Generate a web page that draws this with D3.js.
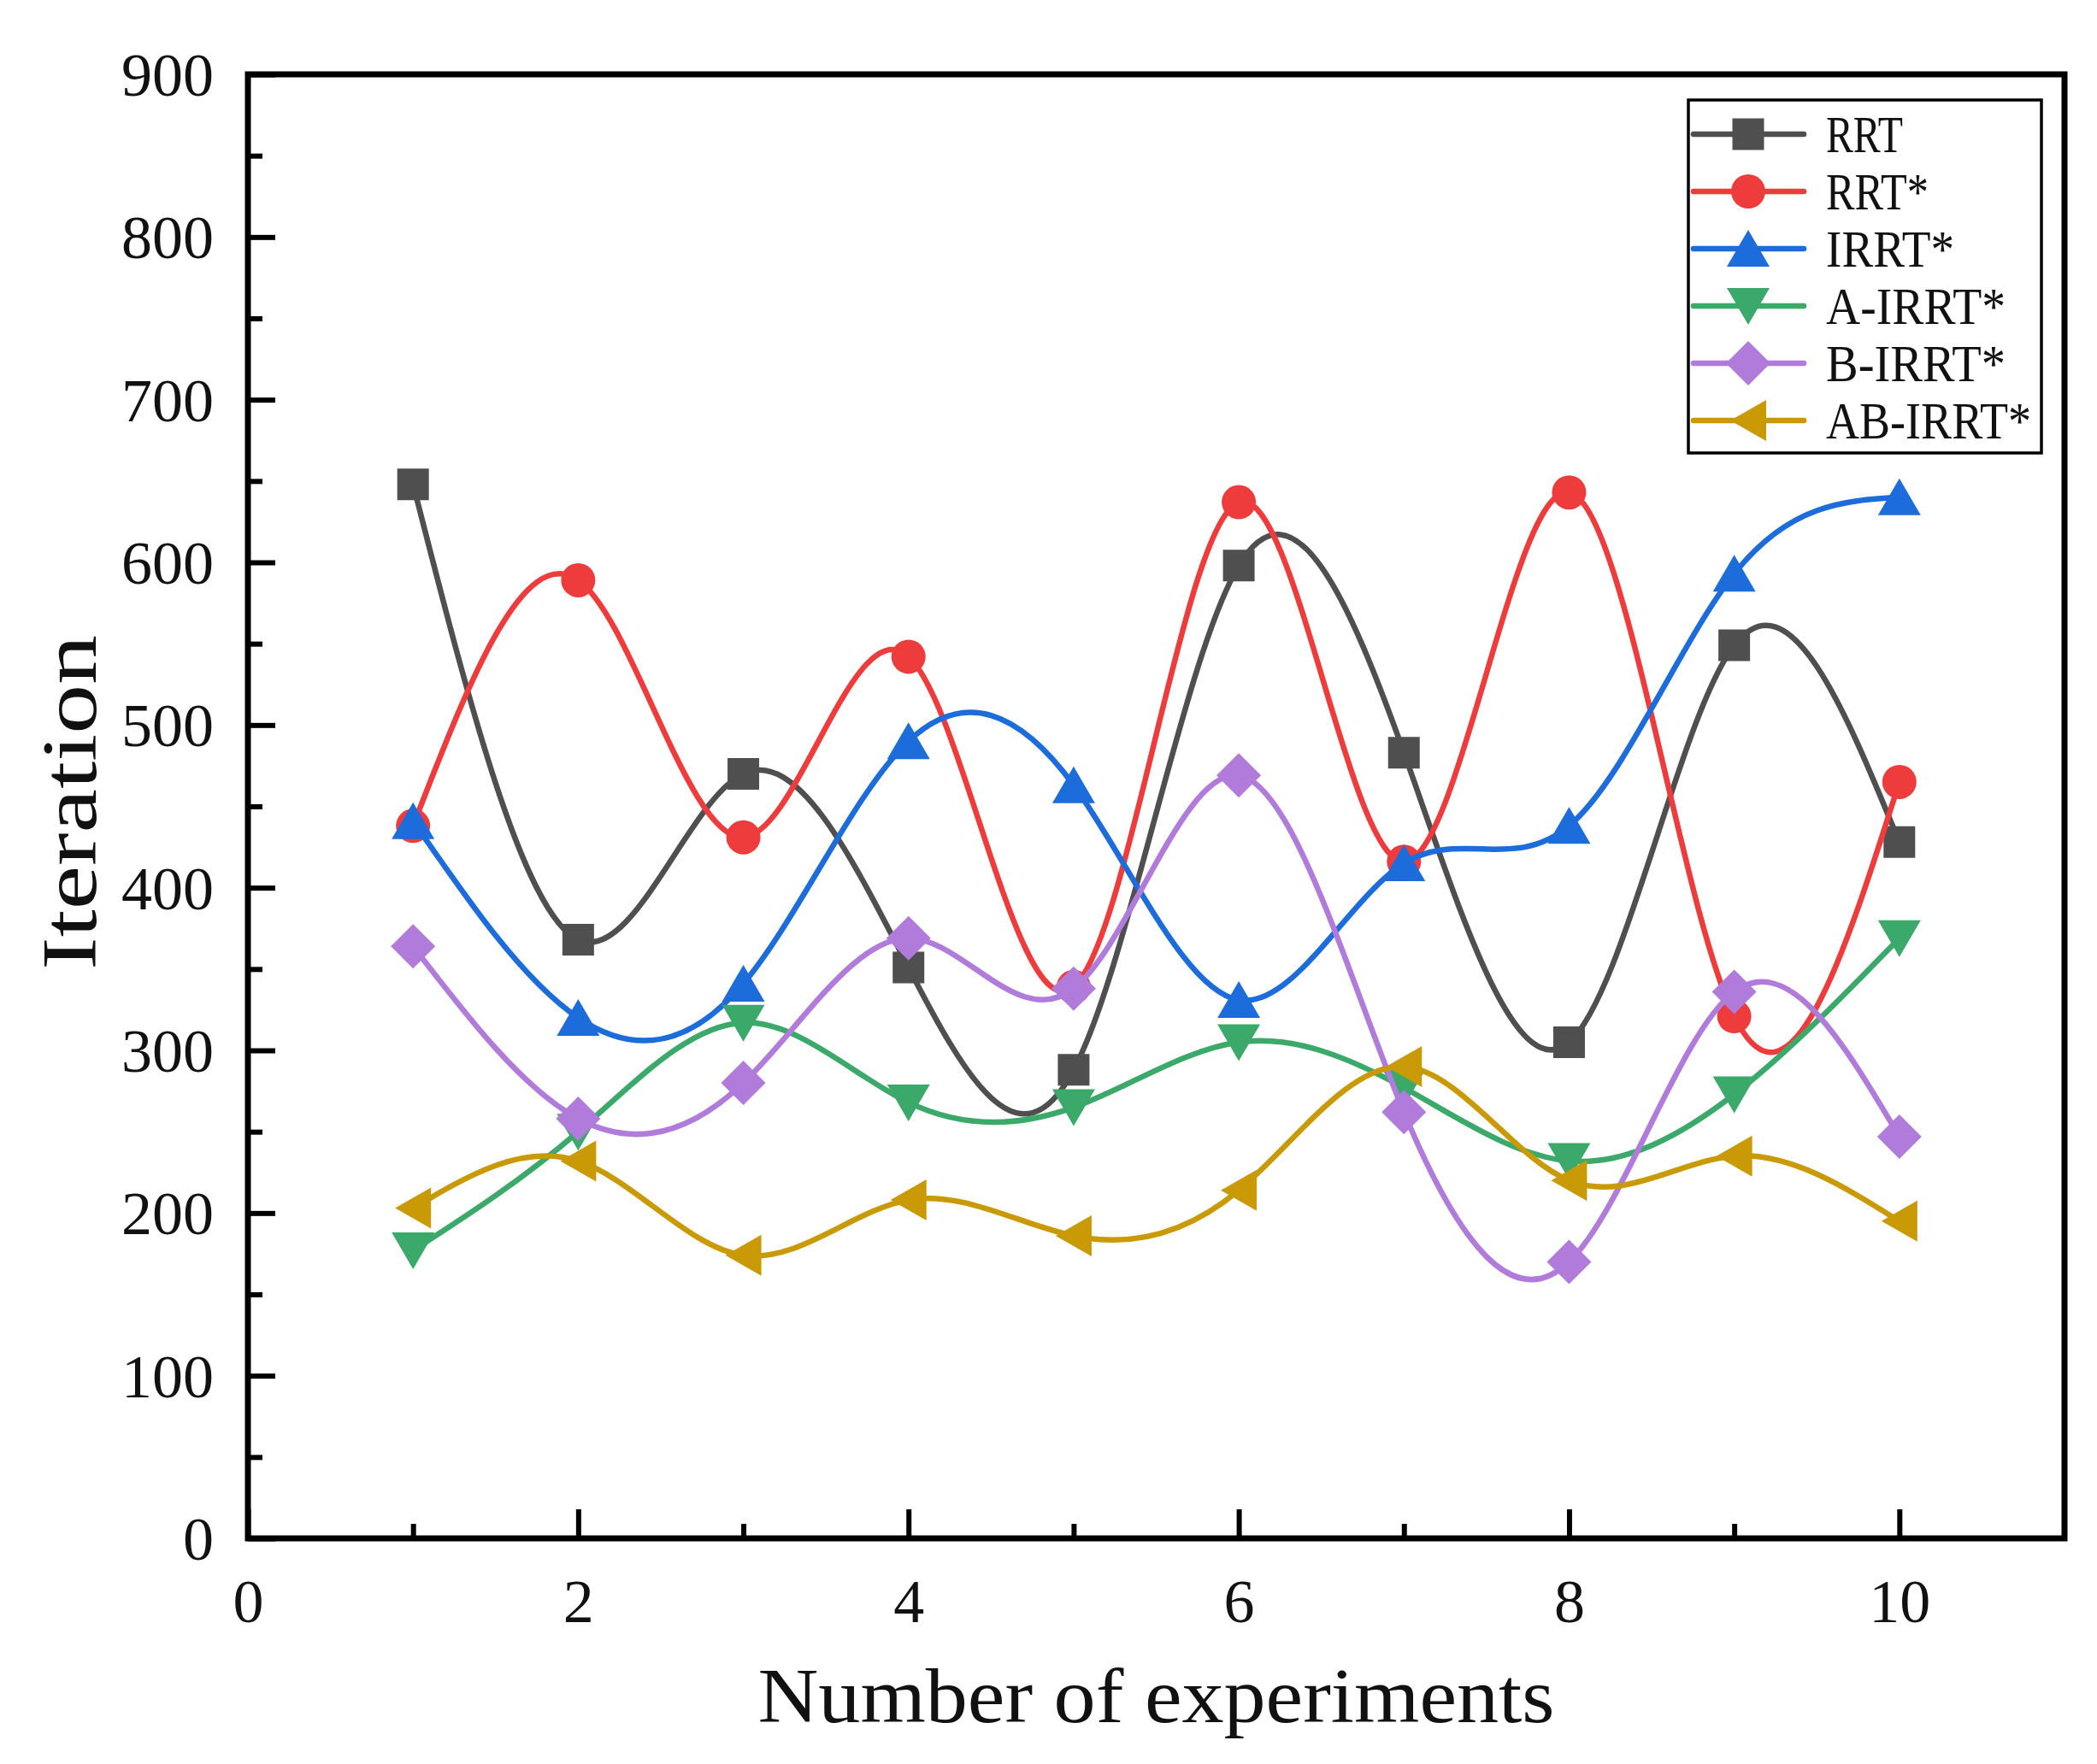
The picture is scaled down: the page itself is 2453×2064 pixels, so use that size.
<!DOCTYPE html>
<html>
<head>
<meta charset="utf-8">
<script src="https://cdn.jsdelivr.net/npm/d3@7"></script>
<style>
  body { margin: 0; background: #fff; }
  text { font-family: "Liberation Serif", "DejaVu Serif", serif; fill: #111; }
</style>
</head>
<body>
<script>
// chart values
var experiments = [1, 2, 3, 4, 5, 6, 7, 8, 9, 10];
var seriesNames = ["RRT", "RRT*", "IRRT*", "A-IRRT*", "B-IRRT*", "AB-IRRT*"];
var rrt     = [648, 368, 470, 351, 288, 598, 483, 305, 549, 428];
var rrtStar = [438, 589, 431, 542, 339, 637, 416, 643, 321, 465];
var irrt    = [441, 320, 341, 490, 463, 331, 415, 438, 593, 640];
var aIrrt   = [177, 250, 317, 268, 265, 305, 277, 232, 273, 369];
var bIrrt   = [364, 258, 280, 369, 338, 469, 262, 170, 336, 247];
var abIrrt  = [203, 232, 174, 208, 186, 214, 290, 220, 235, 195];
var xTicks = [0, 2, 4, 6, 8, 10];
var yTicks = [0, 100, 200, 300, 400, 500, 600, 700, 800, 900];

var colors = ["#4f4f4f", "#ee3c3c", "#1c6cdc", "#3aa96a", "#b07bdb", "#c99a05"];
var shapes = ["square", "circle", "up", "down", "diamond", "left"];
var allValues = [rrt, rrtStar, irrt, aIrrt, bIrrt, abIrrt];

var W = 2453, H = 2064;
var margin = {left: 290, right: 38, top: 87, bottom: 264};
var width = W - margin.left - margin.right;
var height = H - margin.top - margin.bottom;

var svg = d3.select("body").append("svg").attr("width", W).attr("height", H);
svg.append("rect").attr("width", W).attr("height", H).attr("fill", "#fff");

var g = svg.append("g").attr("transform", "translate(" + margin.left + "," + margin.top + ")");

var x = d3.scaleLinear().domain([0, 11]).range([0, width]);
var y = d3.scaleLinear().domain([0, 900]).range([height, 0]);

// minor ticks
g.append("g").attr("transform", "translate(0," + height + ")")
  .call(d3.axisBottom(x).tickValues([1, 3, 5, 7, 9]).tickSizeInner(-17).tickSizeOuter(0).tickFormat(""))
  .call(function(a){ a.select(".domain").remove(); a.selectAll("line").attr("stroke", "#000").attr("stroke-width", 6); });
g.append("g")
  .call(d3.axisLeft(y).tickValues(d3.range(50, 900, 100)).tickSizeInner(-17).tickSizeOuter(0).tickFormat(""))
  .call(function(a){ a.select(".domain").remove(); a.selectAll("line").attr("stroke", "#000").attr("stroke-width", 6); });

// major ticks + labels
var xAxis = g.append("g").attr("transform", "translate(0," + height + ")")
  .call(d3.axisBottom(x).tickValues(xTicks).tickSizeInner(-34).tickSizeOuter(0).tickFormat(d3.format("d")));
xAxis.select(".domain").remove();
xAxis.selectAll("line").attr("stroke", "#000").attr("stroke-width", 6);
xAxis.selectAll("text").attr("y", 98).attr("dy", null).attr("font-size", 72)
  .attr("font-family", "Liberation Serif").attr("fill", "#111");

var yAxis = g.append("g")
  .call(d3.axisLeft(y).tickValues(yTicks).tickSizeInner(-32).tickSizeOuter(0).tickFormat(d3.format("d")));
yAxis.select(".domain").remove();
yAxis.selectAll("line").attr("stroke", "#000").attr("stroke-width", 6);
yAxis.selectAll("text").attr("x", -40).attr("dy", "0.34em").attr("font-size", 72)
  .attr("font-family", "Liberation Serif").attr("fill", "#111");

// frame
g.append("rect").attr("width", width).attr("height", height)
  .attr("fill", "none").attr("stroke", "#000").attr("stroke-width", 7);

// axis titles
svg.append("text").attr("x", margin.left + x(5.5)).attr("y", 2015)
  .attr("text-anchor", "middle").attr("font-size", 90)
  .attr("textLength", 932).attr("lengthAdjust", "spacingAndGlyphs")
  .text("Number of experiments");
svg.append("text").attr("transform", "translate(112,939) rotate(-90)")
  .attr("text-anchor", "middle").attr("font-size", 90)
  .attr("textLength", 392).attr("lengthAdjust", "spacingAndGlyphs")
  .text("Iteration");

function symbolPath(shape) {
  if (shape === "square") return "M-18.5,-18.5H18.5V18.5H-18.5Z";
  if (shape === "circle") return "M-20,0A20,20 0 1,0 20,0A20,20 0 1,0 -20,0Z";
  if (shape === "up") return "M0,-22L25,21L-25,21Z";
  if (shape === "down") return "M0,22L25,-21L-25,-21Z";
  if (shape === "diamond") return "M0,-26L26,0L0,26L-26,0Z";
  if (shape === "left") return "M-21,0L21,-24L21,24Z";
}

var line = d3.line()
  .x(function(d){ return x(d.x); })
  .y(function(d){ return y(d.y); })
  .curve(d3.curveNatural);

seriesNames.forEach(function(name, i) {
  var pts = experiments.map(function(e, j){ return {x: e, y: allValues[i][j]}; });
  var s = g.append("g").attr("class", "series");
  s.append("path").datum(pts).attr("d", line)
    .attr("fill", "none").attr("stroke", colors[i]).attr("stroke-width", 6.5)
    .attr("stroke-linejoin", "round");
  s.selectAll("path.mk").data(pts).enter().append("path").attr("class", "mk")
    .attr("d", symbolPath(shapes[i]))
    .attr("transform", function(d){ return "translate(" + x(d.x) + "," + y(d.y) + ")"; })
    .attr("fill", colors[i]);
});

// legend
var lg = svg.append("g");
lg.append("rect").attr("x", 1975).attr("y", 117).attr("width", 413).attr("height", 413)
  .attr("fill", "#fff").attr("stroke", "#000").attr("stroke-width", 3.5);
seriesNames.forEach(function(name, i) {
  var cy = 157 + i * 67;
  lg.append("line").attr("x1", 1981).attr("x2", 2110).attr("y1", cy).attr("y2", cy)
    .attr("stroke", colors[i]).attr("stroke-width", 6.5).attr("stroke-linecap", "round");
  lg.append("path").attr("d", symbolPath(shapes[i]))
    .attr("transform", "translate(2045," + cy + ")").attr("fill", colors[i]);
  lg.append("text").attr("x", 2136).attr("y", cy + 21).attr("font-size", 62)
    .attr("textLength", name.length * 30).attr("lengthAdjust", "spacingAndGlyphs")
    .text(name);
});
</script>
</body>
</html>
